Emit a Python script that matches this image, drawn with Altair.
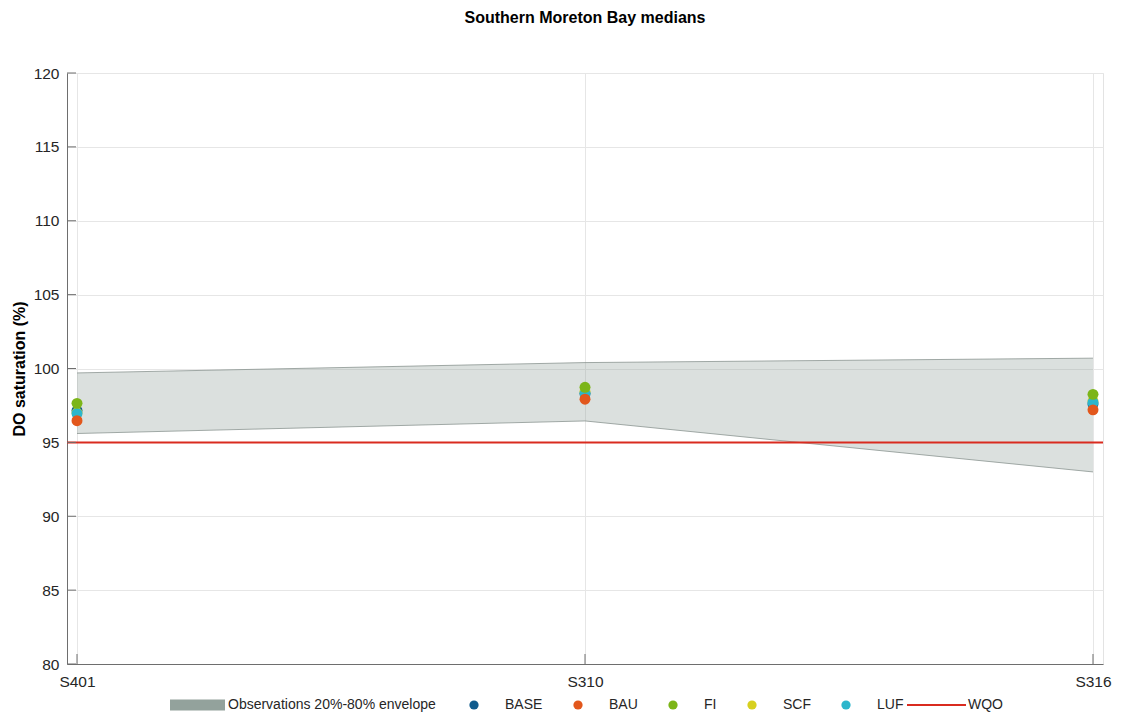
import altair as alt
import pandas as pd

# ---- data ----
stations = ["S401", "S310", "S316"]
env_low = [95.6, 96.45, 93.0]
env_high = [99.7, 100.4, 100.7]
env_label = "Observations 20%-80% envelope"

scenarios = ["BASE", "BAU", "FI", "SCF", "LUF"]
scenario_colors = ["#0f5b8d", "#e2571c", "#7cb518", "#d7d01f", "#2cb6cc"]
base_vals = [97.15, 98.3, 97.6]
bau_vals = [96.47, 97.92, 97.2]
fi_vals = [97.64, 98.73, 98.25]
scf_vals = [97.0, 98.45, 97.8]
luf_vals = [96.95, 98.3, 97.7]

wqo_label = "WQO"
wqo_value = 95
y_ticks = [80, 85, 90, 95, 100, 105, 110, 115, 120]

# ---- tables ----
env_df = pd.DataFrame({"station": stations, "low": env_low, "high": env_high,
                       "series": [env_label] * len(stations)})
vals = {"BASE": base_vals, "BAU": bau_vals, "FI": fi_vals, "SCF": scf_vals, "LUF": luf_vals}
draw_order = ["BASE", "SCF", "LUF", "FI", "BAU"]
rows = []
for s in draw_order:
    for st, v in zip(stations, vals[s]):
        rows.append({"station": st, "scenario": s, "value": v})
pts_df = pd.DataFrame(rows)
wqo_df = pd.DataFrame({"series": [wqo_label], "value": [wqo_value]})
ytick_df = pd.DataFrame({"value": y_ticks})
xtick_df = pd.DataFrame({"station": stations})

W, H = 1036, 591
FONT = "Liberation Sans"
TXT = "#262626"
AXC = "#6e6e6e"

xscale = alt.Scale(type="point", domain=stations, padding=0.0197)
yscale = alt.Scale(domain=[80, 120], nice=False, zero=False)

xaxis = alt.Axis(title=None, labelAngle=0, labelFontSize=15.5, labelColor=TXT, labelFont=FONT,
                 ticks=False, labelPadding=10, grid=True, gridColor="#e6e6e6",
                 domainColor=AXC, domainWidth=1)
yaxis = alt.Axis(title="DO saturation (%)", values=y_ticks, labelFontSize=15.5, labelColor=TXT,
                 labelFont=FONT, ticks=False, labelPadding=8, grid=True, gridColor="#e6e6e6",
                 domainColor=AXC, domainWidth=1, titleFontSize=16, titleFontWeight="bold",
                 titleColor="#000000", titleFont=FONT, titlePadding=6)


def X(field):
    return alt.X(field, scale=xscale, axis=xaxis)


def Y(field):
    return alt.Y(field, scale=yscale, axis=yaxis)


area = alt.Chart(env_df).mark_area(opacity=0.33).encode(
    x=X("station:N"),
    y=Y("low:Q"),
    y2="high:Q",
    color=alt.Color("series:N", scale=alt.Scale(domain=[env_label], range=["#93a29c"]),
                    legend=alt.Legend(title=None, orient="none", legendX=103, legendY=604.5,
                                      direction="horizontal",
                                      symbolType="M-1,-0.2H1V0.2H-1Z", symbolSize=3025,
                                      symbolOpacity=1, symbolStrokeWidth=0, labelOffset=3,
                                      labelFontSize=14, labelColor=TXT, labelFont=FONT,
                                      padding=0, labelLimit=0)),
)

edge_low = alt.Chart(env_df).mark_line(color="#8c9592", strokeWidth=0.8).encode(
    x=X("station:N"), y=Y("low:Q"),
)
edge_high = alt.Chart(env_df).mark_line(color="#8c9592", strokeWidth=0.8).encode(
    x=X("station:N"), y=Y("high:Q"),
)

rule = alt.Chart(wqo_df).mark_rule(strokeWidth=2).encode(
    y=Y("value:Q"),
    stroke=alt.Stroke("series:N", scale=alt.Scale(domain=[wqo_label], range=["#d92b1f"]),
                      legend=alt.Legend(title=None, orient="none", legendX=839, legendY=601.5,
                                        direction="horizontal", symbolType="stroke",
                                        symbolSize=3481, symbolStrokeWidth=2, labelOffset=1,
                                        labelFontSize=14, labelColor=TXT, labelFont=FONT,
                                        padding=0)),
)

points = alt.Chart(pts_df).mark_circle(size=120, opacity=1).encode(
    x=X("station:N"),
    y=Y("value:Q"),
    fill=alt.Fill("scenario:N", scale=alt.Scale(domain=scenarios, range=scenario_colors),
                  legend=alt.Legend(title=None, orient="none", legendX=400, legendY=625,
                                    direction="horizontal", symbolType="circle", symbolSize=85,
                                    symbolStrokeWidth=0, symbolOpacity=1, labelOffset=24,
                                    columnPadding=28, labelFontSize=14, labelColor=TXT,
                                    labelFont=FONT, padding=0)),
)

ytk = alt.Chart(ytick_df).mark_rule(color=AXC, strokeWidth=1).encode(
    y=Y("value:Q"),
    x=alt.value(0), x2=alt.value(9),
)
xtk = alt.Chart(xtick_df).mark_rule(color=AXC, strokeWidth=1).encode(
    x=X("station:N"),
    y=alt.value(H), y2=alt.value(H - 10),
)

chart = alt.layer(area, edge_low, edge_high, rule, points, ytk, xtk).properties(
    width=W, height=H,
    title=alt.TitleParams("Southern Moreton Bay medians", fontSize=16, fontWeight="bold",
                          anchor="middle", frame="group", offset=27, baseline="alphabetic",
                          color="#000000", font=FONT),
    autosize=alt.AutoSizeParams(type="none"),
    padding={"left": 59, "top": 65, "right": 12, "bottom": 59},
).configure(font=FONT).configure_view(stroke="#e3e3e3", strokeWidth=1)

chart.save("out.html", embed_options={"renderer": "svg", "actions": False})
